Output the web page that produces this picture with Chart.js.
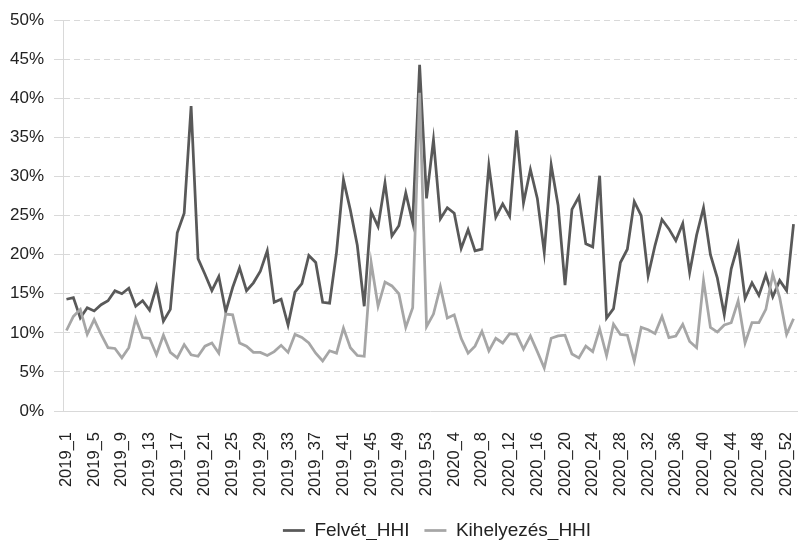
<!DOCTYPE html>
<html>
<head>
<meta charset="utf-8">
<script src="https://cdn.jsdelivr.net/npm/chart.js@4.4.1/dist/chart.umd.min.js"></script>
<style>
  html, body { margin: 0; padding: 0; background: #fff; }
</style>
</head>
<body>
<canvas id="hhiChart" width="800" height="540"></canvas>
<script>
// weekly categories: 2019_1 .. 2019_53, 2020_1 .. 2020_53
const years = [2019, 2020];
const weeksPerYear = 53;
const weeks = [];
years.forEach(y => {
  for (let w = 1; w <= weeksPerYear; w++) weeks.push(y + '_' + w);
});

// HHI values, percent
const felvetHHI = [
  14.3, 14.5, 11.9, 13.2, 12.8, 13.6, 14.1, 15.4, 15.0, 15.7,
  13.4, 14.1, 12.9, 15.9, 11.5, 13.0, 22.8, 25.3, 39.0, 19.5,
  17.5, 15.4, 17.2, 12.7, 15.8, 18.3, 15.4, 16.4, 17.9, 20.5,
  13.9, 14.3, 11.0, 15.2, 16.3, 19.9, 19.0, 13.9, 13.8, 20.3,
  29.6, 25.7, 21.2, 13.4, 25.5, 23.6, 29.2, 22.4, 23.7, 27.9,
  24.1, 44.3, 27.2, 34.7, 24.6, 26.0, 25.3, 20.8, 23.2, 20.5,
  20.7, 31.4, 24.8, 26.5, 24.9, 35.9, 26.6, 30.9, 27.2, 20.3,
  31.5, 26.3, 16.1, 25.8, 27.4, 21.4, 21.0, 30.1, 11.9, 13.1,
  19.0, 20.7, 26.8, 25.0, 17.3, 21.2, 24.5, 23.3, 21.8, 24.0,
  17.7, 22.5, 26.0, 20.0, 17.0, 12.3, 18.2, 21.3, 14.4, 16.4,
  14.8, 17.4, 14.6, 16.7, 15.4, 23.9
];
const kihelyezesHHI = [
  10.3, 12.1, 13.0, 9.8, 11.7, 9.8, 8.1, 8.0, 6.8, 8.1,
  11.8, 9.4, 9.3, 7.2, 9.7, 7.5, 6.8, 8.5, 7.2, 7.0,
  8.3, 8.7, 7.4, 12.4, 12.3, 8.7, 8.3, 7.5, 7.5, 7.1,
  7.6, 8.4, 7.5, 9.8, 9.4, 8.7, 7.4, 6.4, 7.7, 7.4,
  10.6, 8.1, 7.1, 7.0, 19.0, 13.4, 16.5, 16.0, 15.0, 10.7,
  13.2, 40.7, 10.8, 12.4, 15.9, 11.9, 12.3, 9.3, 7.4, 8.3,
  10.2, 7.7, 9.3, 8.7, 9.9, 9.8, 7.9, 9.6, 7.6, 5.5,
  9.3, 9.6, 9.7, 7.3, 6.8, 8.3, 7.6, 10.5, 7.1, 11.1,
  9.8, 9.7, 6.4, 10.7, 10.4, 9.9, 12.1, 9.4, 9.6, 11.1,
  8.9, 8.1, 16.7, 10.7, 10.1, 11.0, 11.3, 14.1, 8.7, 11.3,
  11.3, 13.0, 17.5, 14.5, 9.8, 11.8
];

const FONT = "'Liberation Sans', Arial, sans-serif";

// Excel puts the legend a bit lower/right than Chart.js would
const legendNudge = {
  id: 'legendNudge',
  afterLayout(chart) {
    const lg = chart.legend;
    lg.left += 7; lg.right += 7;
    lg.top += 10; lg.bottom += 10;
  }
};

new Chart(document.getElementById('hhiChart'), {
  type: 'line',
  data: {
    labels: weeks,
    datasets: [{
      label: 'Felvét_HHI',
      data: felvetHHI,
      borderColor: '#595959',
      backgroundColor: '#595959',
      borderWidth: 2.75,
      pointRadius: 0,
      tension: 0,
      order: 1
    }, {
      label: 'Kihelyezés_HHI',
      data: kihelyezesHHI,
      borderColor: '#a6a6a6',
      backgroundColor: '#a6a6a6',
      borderWidth: 2.75,
      pointRadius: 0,
      tension: 0,
      order: 0
    }]
  },
  options: {
    responsive: false,
    animation: false,
    layout: { padding: { top: 18, right: 3, left: 0, bottom: 0 } },
    plugins: {
      tooltip: { enabled: false },
      legend: {
        position: 'bottom',
        fullSize: false,
        labels: {
          usePointStyle: true,
          pointStyle: 'line',
          pointStyleWidth: 22,
          padding: 15,
          color: '#222',
          font: { family: FONT, size: 19 },
          sort: (a, b) => a.datasetIndex - b.datasetIndex
        }
      }
    },
    scales: {
      x: {
        offset: true,
        grid: { display: false },
        border: { color: '#d9d9d9', width: 1 },
        ticks: {
          autoSkip: false,
          minRotation: 90,
          maxRotation: 90,
          padding: 13,
          color: '#222',
          font: { family: FONT, size: 16.5 },
          callback: function (val, i) { return i % 4 === 0 ? this.getLabelForValue(val) : ''; }
        },
        afterFit: s => { s.height = 85; s.paddingLeft = 0; s.paddingRight = 0; }
      },
      y: {
        min: 0,
        max: 50,
        grid: { color: '#d9d9d9', tickLength: 9, tickColor: '#d9d9d9' },
        border: { color: '#d9d9d9', width: 1, dash: [6, 4] },
        ticks: {
          stepSize: 5,
          padding: 10,
          color: '#222',
          font: { family: FONT, size: 17 },
          callback: v => v + '%'
        },
        afterFit: s => { s.width = 63; }
      }
    }
  },
  plugins: [legendNudge]
});
</script>
</body>
</html>
